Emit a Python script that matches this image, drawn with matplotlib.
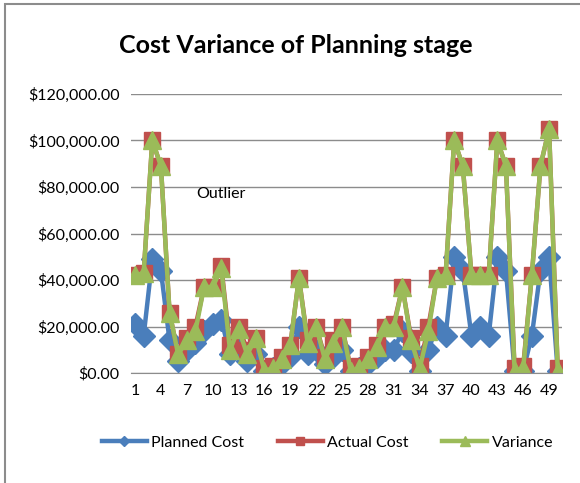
import numpy as np
import matplotlib.pyplot as plt
from matplotlib.patches import Rectangle
from matplotlib.ticker import FuncFormatter

plt.rcParams['font.family'] = ['Liberation Sans Narrow', 'Lato', 'DejaVu Sans']

idx = np.arange(1, 51)
planned = [21000, 16000, 49000, 44000, 14000, 5000, 10000, 13000, 18000, 21000,
           23000, 8000, 10000, 5000, 8000, 1000, 2000, 4000, 7000, 20000,
           8000, 10000, 4000, 7000, 10000, 1000, 2000, 4000, 7000, 10000,
           10000, 18000, 9000, 1000, 10000, 20000, 16000, 50000, 44000, 16000,
           20000, 16000, 50000, 44000, 1000, 1000, 16000, 44000, 50000, 1000]
actual = [42000, 43000, 100000, 89000, 26000, 8000, 15000, 20000, 37000, 37000,
          46000, 12000, 20000, 10000, 15000, 2000, 3000, 7000, 12000, 41000,
          14000, 20000, 7000, 14000, 20000, 2000, 3000, 7000, 12000, 20000,
          21000, 37000, 15000, 3000, 20000, 41000, 42000, 100000, 89000, 42000,
          42000, 42000, 100000, 89000, 2000, 3000, 42000, 89000, 105000, 2000]
variance = [42000, 43000, 100000, 89000, 26000, 8000, 14000, 18000, 37000, 37000,
            45000, 10000, 19000, 8000, 15000, 1000, 2000, 6000, 12000, 41000,
            13000, 20000, 6000, 13000, 20000, 1000, 2000, 6000, 11000, 20000,
            20000, 37000, 14000, 2000, 18000, 41000, 42000, 100000, 89000, 42000,
            42000, 42000, 100000, 89000, 1000, 2000, 42000, 89000, 105000, 1000]

fig = plt.figure(figsize=(5.8, 4.83), dpi=100)
ax = fig.add_axes([0.2254, 0.2277, 0.7436, 0.5777])

# chart border (only top/left visible in the crop)
fig.patches.append(Rectangle((5 / 580, -0.1), 1.2, 1 - 4 / 483 + 0.1, transform=fig.transFigure,
                             fill=False, edgecolor='#8c8c8c', lw=1.5))

ax.plot(idx, planned, color='#4a7ebb', lw=3.2, marker='D', ms=11, label='Planned Cost')
ax.plot(idx, actual, color='#c0504d', lw=3.2, marker='s', ms=11, label='Actual Cost')
ax.plot(idx, variance, color='#9bbb59', lw=3.2, marker='^', ms=13, label='Variance')

ax.set_xlim(0.5, 50.5)
ax.set_ylim(0, 120000)
ax.set_yticks(np.arange(0, 120001, 20000))
ax.yaxis.set_major_formatter(FuncFormatter(lambda v, p: '${:,.2f}'.format(v)))
ax.set_xticks(np.arange(1, 51, 3))
ax.tick_params(axis='both', length=0, labelsize=11.5, colors='black', pad=8)
ax.grid(axis='y', color='#8c8c8c', lw=1)
ax.set_axisbelow(True)
for s in ['top', 'right', 'left']:
    ax.spines[s].set_visible(False)
ax.spines['bottom'].set_color('#8c8c8c')

ax.text(10.9, 77000, 'Outlier', fontsize=11.5, ha='center', va='center')

fig.text(0.51, 0.905, 'Cost Variance of Planning stage', ha='center', va='center',
         fontsize=18, fontweight='bold')

fig.legend(loc='center', bbox_to_anchor=(0.565, 0.083), ncol=3, frameon=False,
           fontsize=11.5, handlelength=2.8, columnspacing=2.1, handletextpad=0.3, markerscale=0.5)

fig.savefig('out.png', dpi=100)
